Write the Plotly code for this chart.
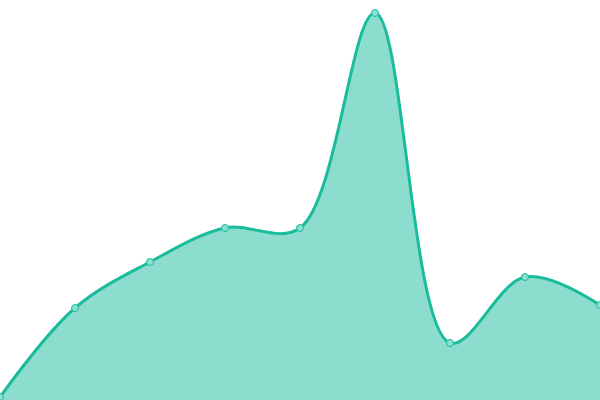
import plotly.graph_objects as go

# data (y in axis units, 0..400 range)
x_vals = [0, 1, 2, 3, 4, 5, 6, 7, 8]
y_vals = [3, 92, 138, 172, 172, 387, 57, 123, 95]

line_color = "#1abc9c"
fill_color = "rgba(26,188,156,0.5)"

fig = go.Figure()
fig.add_trace(go.Scatter(
    x=x_vals,
    y=y_vals,
    mode="lines+markers",
    line=dict(color=line_color, width=3, shape="spline", smoothing=1),
    fill="tozeroy",
    fillcolor=fill_color,
    marker=dict(size=7, color="#8be0cf", line=dict(color=line_color, width=1)),
    cliponaxis=False,
    hoverinfo="skip",
))

fig.update_layout(
    width=600,
    height=400,
    margin=dict(l=0, r=0, t=0, b=0),
    paper_bgcolor="white",
    plot_bgcolor="white",
    showlegend=False,
    xaxis=dict(range=[0, 8], visible=False, fixedrange=True),
    yaxis=dict(range=[0, 400], visible=False, fixedrange=True),
)

# drop the browser's default body margin so the chart fills the window
fig.write_html(
    "out.html",
    config={"displayModeBar": False},
    post_script="document.body.style.margin='0';document.body.style.overflow='hidden';",
)
